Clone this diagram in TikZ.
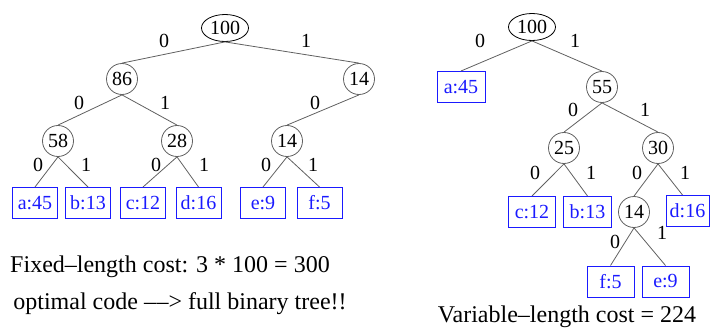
\documentclass[tikz,border=0pt]{standalone}
\usepackage{fontspec}
\setmainfont{Liberation Serif}
\usetikzlibrary{shapes.geometric}
\definecolor{edgegray}{HTML}{606060}
\definecolor{leafblue}{HTML}{1A1AFF}
\begin{document}
\begin{tikzpicture}[x=1pt,y=-1pt,
  every node/.style={font=\fontsize{20}{24}\selectfont},
  inner/.style={circle,draw=edgegray,line width=0.8pt,minimum size=31pt,inner sep=0pt},
  rootnode/.style={ellipse,draw=black,line width=0.8pt,minimum width=47pt,minimum height=27pt,inner sep=0pt},
  leaf/.style={rectangle,draw=leafblue,line width=1pt,text=leafblue,minimum width=45pt,minimum height=31pt,inner sep=0pt},
  bit/.style={inner sep=0pt},
  txt/.style={inner sep=0pt,font=\fontsize{24}{28}\selectfont},
  edge/.style={draw=edgegray,line width=0.8pt}]
\useasboundingbox (0,0) rectangle (710,329);

% ---------- left tree ----------
\node[rootnode] (L100) at (225,28) {100};
\node[inner] (L86) at (122,79) {86};
\node[inner] (L14a) at (359,79) {14};
\node[inner] (L58) at (58,141) {58};
\node[inner] (L28) at (177,141) {28};
\node[inner] (L14b) at (287,141) {14};
\node[leaf] (La) at (35,203) {a:45};
\node[leaf] (Lb) at (88,203) {b:13};
\node[leaf] (Lc) at (143,203) {c:12};
\node[leaf] (Ld) at (198.5,203) {d:16};
\node[leaf] (Le) at (263,203) {e:9};
\node[leaf] (Lf) at (319.5,203) {f:5};

\draw[edge] (L100.south) -- (L86.north);
\draw[edge] (L100.south) -- (L14a.north);
\draw[edge] (L86.south) -- (L58.north);
\draw[edge] (L86.south) -- (L28.north);
\draw[edge] (L14a.south) -- (L14b.north);
\draw[edge] (L58.south) -- (La.north);
\draw[edge] (L58.south) -- (Lb.north);
\draw[edge] (L28.south) -- (Lc.north);
\draw[edge] (L28.south) -- (Ld.north);
\draw[edge] (L14b.south) -- (Le.north);
\draw[edge] (L14b.south) -- (Lf.north);

\node[bit] (lb1) at (164,41) {0};
\node[bit] (lb2) at (306,41) {1};
\node[bit] (lb3) at (79,103) {0};
\node[bit] (lb4) at (165,103) {1};
\node[bit] (lb5) at (315,103) {0};
\node[bit] (lb6) at (38,165) {0};
\node[bit] (lb7) at (86,165) {1};
\node[bit] (lb8) at (156,165) {0};
\node[bit] (lb9) at (204,165) {1};
\node[bit] (lb10) at (266,165) {0};
\node[bit] (lb11) at (313,165) {1};

\node[txt] (fixed) at (170,267) {Fixed\textendash length cost: 3 * 100 = 300};
\node[txt] (optimal) at (180,304) {optimal code \textendash\kern0.5pt\textendash> full binary tree!!};

% ---------- right tree ----------
\node[rootnode] (R100) at (532,27) {100};
\node[leaf,minimum width=48pt] (Ra) at (461,87) {a:45};
\node[inner] (R55) at (602,87) {55};
\node[inner] (R25) at (564,148) {25};
\node[inner] (R30) at (658,148) {30};
\node[leaf,minimum width=47pt] (Rc) at (532,212) {c:12};
\node[leaf,minimum width=48pt] (Rb) at (587.5,212) {b:13};
\node[inner] (R14) at (634,212) {14};
\node[leaf,minimum width=43pt] (Rd) at (687.5,211) {d:16};
\node[leaf,minimum width=47pt] (Rf) at (610.5,281.5) {f:5};
\node[leaf,minimum width=47pt] (Re) at (665.5,281.5) {e:9};

\draw[edge] (R100.south) -- (Ra.north);
\draw[edge] (R100.south) -- (R55.north);
\draw[edge] (R55.south) -- (R25.north);
\draw[edge] (R55.south) -- (R30.north);
\draw[edge] (R25.south) -- (Rc.north);
\draw[edge] (R25.south) -- (Rb.north);
\draw[edge] (R30.south) -- (R14.north);
\draw[edge] (R30.south) -- ([xshift=-5pt]Rd.north);
\draw[edge] (R14.south) -- (Rf.north);
\draw[edge] (R14.south) -- (Re.north);

\node[bit] (rb1) at (480,41) {0};
\node[bit] (rb2) at (575,41) {1};
\node[bit] (rb3) at (573,110) {0};
\node[bit] (rb4) at (645,110) {1};
\node[bit] (rb5) at (535,173) {0};
\node[bit] (rb6) at (591,173) {1};
\node[bit] (rb7) at (637,173) {0};
\node[bit] (rb8) at (685,173) {1};
\node[bit] (rb9) at (615,242) {0};
\node[bit] (rb10) at (662,233) {1};

\node[txt] (variable) at (567,317) {Variable\textendash length cost = 224};
\end{tikzpicture}
\end{document}
